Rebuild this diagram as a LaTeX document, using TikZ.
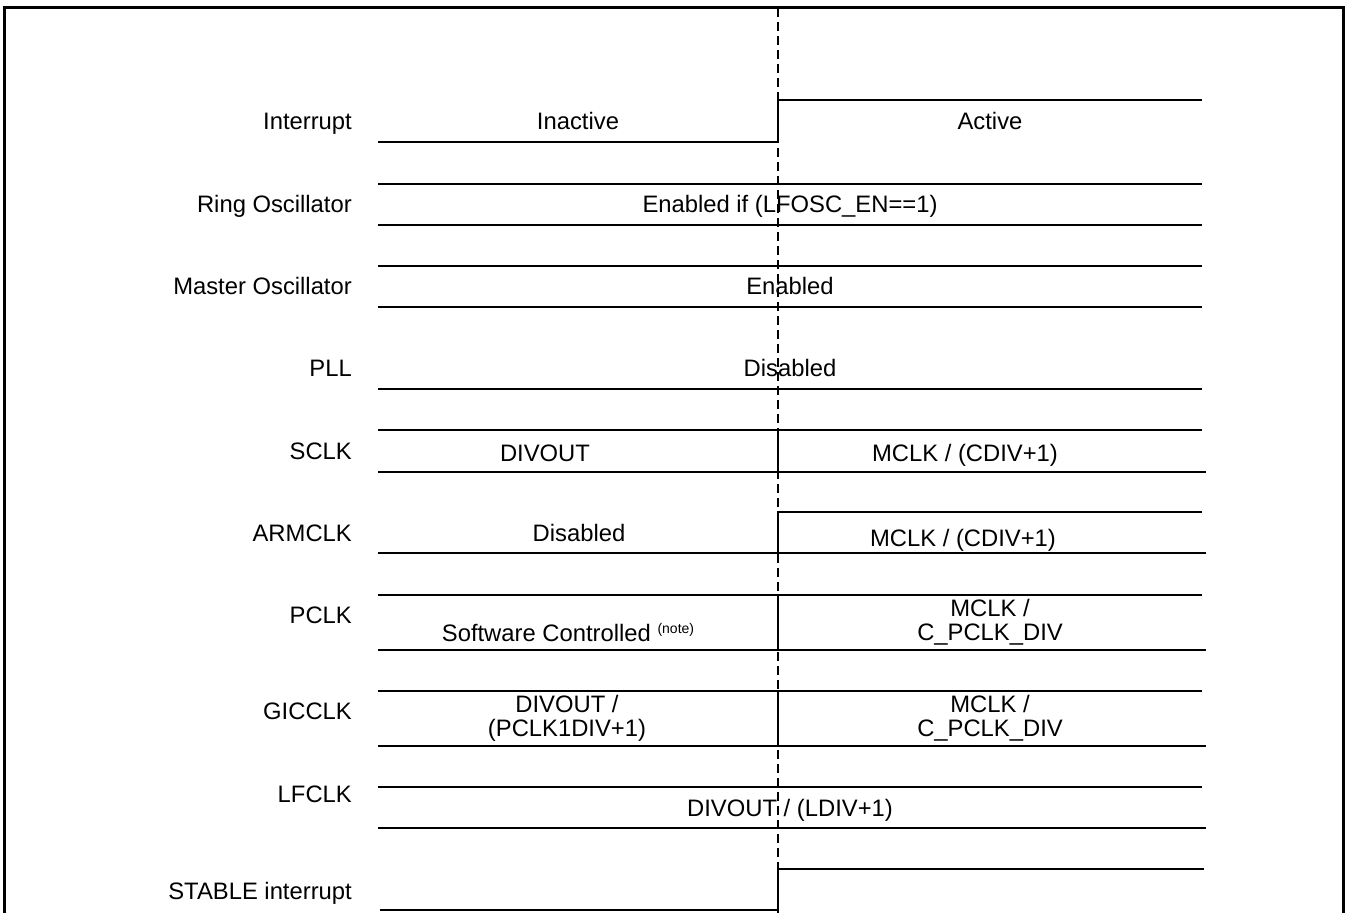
\documentclass[tikz,border=0pt]{standalone}
\usepackage{fontspec}
\setmainfont{Liberation Sans}
\begin{document}
\begin{tikzpicture}[x=1pt,y=-1pt,
  sig/.style={line width=2pt},
  frm/.style={line width=3pt},
  dashline/.style={line width=1.4pt,dash pattern=on 9pt off 5pt},
  lbl/.style={anchor=base east,inner sep=0pt,font=\fontsize{23.8}{26}\selectfont},
  txt/.style={anchor=base,inner sep=0pt,font=\fontsize{23.8}{26}\selectfont},
  txttwo/.style={anchor=center,inner sep=0pt,align=center,font=\fontsize{23.8}{24}\selectfont}]
\useasboundingbox (0,0) rectangle (1346,913);
% frame
\draw[frm] (4,913) -- (4,7) -- (1343,7) -- (1343,913);
% dashed time marker
\coordinate (dtop) at (778,8);
\coordinate (dbot) at (778,913);
\draw[dashline] (dtop) -- (dbot);
% signal labels
\node[lbl] (lInt) at (352,129) {Interrupt};
\node[lbl] (lRing) at (352,212) {Ring Oscillator};
\node[lbl] (lMas) at (352,294) {Master Oscillator};
\node[lbl] (lPLL) at (352,376) {PLL};
\node[lbl] (lSCLK) at (352,459) {SCLK};
\node[lbl] (lARM) at (352,541) {ARMCLK};
\node[lbl] (lPCLK) at (352,623) {PCLK};
\node[lbl] (lGIC) at (352,719) {GICCLK};
\node[lbl] (lLF) at (352,802) {LFCLK};
\node[lbl] (lSTB) at (352,899) {STABLE interrupt};
% Interrupt
\draw[sig] (378,142) -- (778,142) -- (778,100) -- (1202,100);
\node[txt] (tInact) at (578,129) {Inactive};
\node[txt] (tAct) at (990,129) {Active};
% Ring oscillator
\draw[sig] (378,184) -- (1202,184);
\draw[sig] (378,225) -- (1202,225);
\node[txt] (tRing) at (790,212) {Enabled if (LFOSC\_EN==1)};
% Master oscillator
\draw[sig] (378,266) -- (1202,266);
\draw[sig] (378,307) -- (1202,307);
\node[txt] (tMas) at (790,294) {Enabled};
% PLL
\draw[sig] (378,389) -- (1202,389);
\node[txt] (tPLL) at (790,376) {Disabled};
% SCLK
\draw[sig] (378,430) -- (1202,430);
\draw[sig] (378,472) -- (1206,472);
\draw[sig] (778,430) -- (778,472);
\node[txt] (tSc1) at (545,461) {DIVOUT};
\node[txt] (tSc2) at (965,461) {MCLK / (CDIV+1)};
% ARMCLK
\draw[sig] (378,553) -- (1206,553);
\draw[sig] (778,553) -- (778,512) -- (1202,512);
\node[txt] (tArm1) at (579,541) {Disabled};
\node[txt] (tArm2) at (963,546) {MCLK / (CDIV+1)};
% PCLK
\draw[sig] (378,595) -- (1202,595);
\draw[sig] (378,650) -- (1206,650);
\draw[sig] (778,595) -- (778,650);
\node[txt] (tP1) at (568,641) {Software Controlled \raisebox{8pt}{\fontsize{14}{14}\selectfont (note)}};
\node[txttwo] (tP2) at (990,622) {MCLK /\\C\_PCLK\_DIV};
% GICCLK
\draw[sig] (378,691) -- (1202,691);
\draw[sig] (378,746) -- (1206,746);
\draw[sig] (778,691) -- (778,746);
\node[txttwo] (tG1) at (567,718) {DIVOUT /\\(PCLK1DIV+1)};
\node[txttwo] (tG2) at (990,718) {MCLK /\\C\_PCLK\_DIV};
% LFCLK
\draw[sig] (378,787) -- (1202,787);
\draw[sig] (378,828) -- (1206,828);
\node[txt] (tLF) at (790,816) {DIVOUT / (LDIV+1)};
% STABLE interrupt
\draw[sig] (380,910) -- (778,910) -- (778,869) -- (1204,869);
\end{tikzpicture}
\end{document}
